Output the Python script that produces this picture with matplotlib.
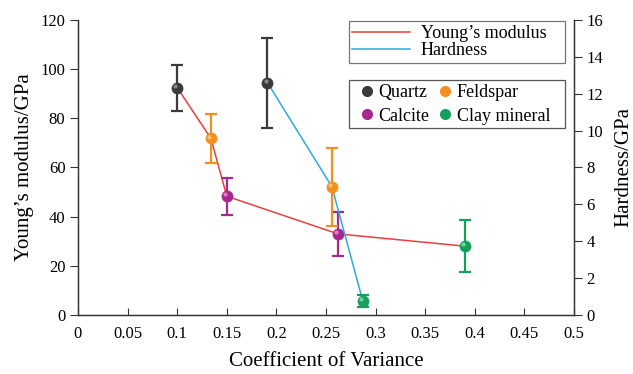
import matplotlib
matplotlib.use("Agg")
import matplotlib.pyplot as plt
from matplotlib.lines import Line2D
from matplotlib.patches import Rectangle
from matplotlib.transforms import offset_copy

plt.rcParams['font.family'] = ['Liberation Serif', 'DejaVu Serif']

# Young's modulus (left axis)
ym_cv = [0.1, 0.134, 0.150, 0.262, 0.390]
ym_val = [92.5, 71.8, 48.3, 33.0, 28.0]
ym_err = [9.4, 9.8, 7.5, 8.9, 10.7]
ym_min = ['Quartz', 'Feldspar', 'Calcite', 'Calcite', 'Clay mineral']

# Hardness (right axis)
hd_cv = [0.191, 0.256, 0.287]
hd_val = [12.6, 6.95, 0.78]
hd_err = [2.45, 2.1, 0.32]
hd_min = ['Quartz', 'Feldspar', 'Clay mineral']

minerals = ['Quartz', 'Feldspar', 'Calcite', 'Clay mineral']
colors = {'Quartz': '#3a3a3a', 'Feldspar': '#f5901e',
          'Calcite': '#a8288f', 'Clay mineral': '#14a05a'}
light = {'Quartz': '#9a9a9a', 'Feldspar': '#ffd08a',
         'Calcite': '#e59ad6', 'Clay mineral': '#8fe0b0'}

xticks = [0, 0.05, 0.1, 0.15, 0.2, 0.25, 0.3, 0.35, 0.4, 0.45, 0.5]

fig = plt.figure(figsize=(6.33, 3.74), dpi=100)
ax = fig.add_axes([0.1232, 0.1578, 0.7836, 0.7887])
ax2 = ax.twinx()

ax.set_xlim(0, 0.5)
ax.set_ylim(0, 120)
ax2.set_ylim(0, 16)

def sphere(a, x, y, m):
    a.plot(x, y, 'o', ms=8, color=colors[m], mec=colors[m], mew=0.5, zorder=5)
    tr = offset_copy(a.transData, fig=fig, x=-1.3, y=1.3, units='points')
    a.plot(x, y, 'o', ms=3, color=light[m], mew=0, alpha=0.8, transform=tr, zorder=6)

# lines
ax.plot(ym_cv, ym_val, color='#e8403f', lw=1.1, zorder=3)
ax2.plot(hd_cv, hd_val, color='#29abe2', lw=1.1, zorder=3)

for x, y, e, m in zip(ym_cv, ym_val, ym_err, ym_min):
    ax.errorbar(x, y, yerr=e, fmt='none', ecolor=colors[m], elinewidth=1.6,
                capsize=4, capthick=1.6, zorder=4)
    sphere(ax, x, y, m)
for x, y, e, m in zip(hd_cv, hd_val, hd_err, hd_min):
    ax2.errorbar(x, y, yerr=e, fmt='none', ecolor=colors[m], elinewidth=1.6,
                 capsize=4, capthick=1.6, zorder=4)
    sphere(ax2, x, y, m)

ax.set_xticks(xticks)
ax.set_xticklabels(['%g' % t for t in xticks])
ax.set_yticks(range(0, 121, 20))
ax2.set_yticks(range(0, 17, 2))

for a in (ax, ax2):
    a.spines['top'].set_visible(False)
    for s in a.spines.values():
        s.set_color('#333333')
        s.set_linewidth(0.9)
ax.tick_params(axis='x', direction='in', length=5, labelsize=12, color='#333333', pad=8)
ax.tick_params(axis='y', direction='out', length=6, labelsize=12, color='#333333', pad=3)
ax2.tick_params(axis='y', direction='out', length=6, labelsize=12, color='#333333', pad=3)

ax.set_xlabel('Coefficient of Variance', fontsize=15, labelpad=7)
ax.set_ylabel('Young\u2019s modulus/GPa', fontsize=15, labelpad=5)
ax2.set_ylabel('Hardness/GPa', fontsize=15, labelpad=8)

# legend for lines
lh = [Line2D([], [], color='#e8403f', lw=1.1), Line2D([], [], color='#29abe2', lw=1.1)]
leg1 = fig.legend(lh, ['Young\u2019s modulus', 'Hardness'], loc='upper left',
                  bbox_to_anchor=(0.551, 0.943, 0.342, 0.0), mode='expand',
                  fontsize=13, handlelength=3.2, frameon=True, fancybox=False,
                  edgecolor='#555555', borderpad=0.2, labelspacing=0.0,
                  handletextpad=0.6, borderaxespad=0)
leg1.get_frame().set_linewidth(0.9)

# legend for minerals, box drawn separately
mh = [Line2D([], [], ls='none', marker='o', ms=7, color=colors[m]) for m in minerals]
order = [0, 2, 1, 3]
fig.legend([mh[i] for i in order], [minerals[i] for i in order], loc='upper left',
           bbox_to_anchor=(0.561, 0.7914), ncol=2,
           fontsize=13, handlelength=0.6, frameon=False,
           borderpad=0.35, labelspacing=0.35,
           handletextpad=0.35, columnspacing=0.55, borderaxespad=0)
fig.add_artist(Rectangle((349 / 633, 1 - 128 / 374), 216 / 633, 48 / 374,
                         transform=fig.transFigure, fill=False,
                         edgecolor='#555555', lw=0.9))

fig.savefig('out.png', dpi=100)
